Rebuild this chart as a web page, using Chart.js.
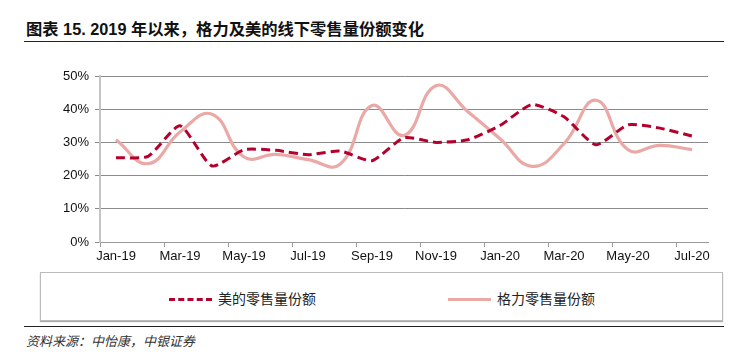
<!DOCTYPE html>
<html>
<head>
<meta charset="utf-8">
<script src="https://cdn.jsdelivr.net/npm/chart.js@4"></script>
<style>
  body { margin: 0; width: 736px; height: 354px; background: #fff; position: relative; overflow: hidden; font-family: "Liberation Sans", Arial, sans-serif; }
  #title { position: absolute; left: 26px; top: 16px; font: bold 16.3px "Liberation Sans", "Noto Sans CJK SC", sans-serif; color: #111; white-space: nowrap; }
  .rule { position: absolute; left: 24px; width: 700px; height: 0; border-top: 1.5px solid #222; }
  #wrap { position: absolute; left: 0; top: 60px; width: 736px; height: 210px; }
  #legend { position: absolute; left: 40px; top: 272px; width: 681px; height: 47px; border: 1px solid #bbb; box-shadow: 0 1px 1px #aaa; }
  .item { position: absolute; top: 15px; font: 14px "Noto Sans CJK SC", sans-serif; color: #222; white-space: nowrap; }
  .swatch { display: inline-block; width: 43px; height: 0; vertical-align: middle; margin-right: 6px; position: relative; top: -1px; }
  #source { position: absolute; left: 26px; top: 331px; font: italic 13px "Noto Sans CJK SC", sans-serif; color: #333; }
</style>
</head>
<body>
<div id="title">图表 15. 2019 年以来，格力及美的线下零售量份额变化</div>
<div class="rule" style="top:41px"></div>
<div id="wrap"><canvas id="shareChart"></canvas></div>
<div id="legend">
  <div class="item" style="left:128px"><span class="swatch" style="border-top:3px dashed #B3002D"></span>美的零售量份额</div>
  <div class="item" style="left:407px"><span class="swatch" style="border-top:3px solid #EAA9A6"></span>格力零售量份额</div>
</div>
<div class="rule" style="top:326px"></div>
<div id="source">资料来源：中怡康，中银证券</div>
<script>
const months = ['Jan-19', 'Feb-19', 'Mar-19', 'Apr-19', 'May-19', 'Jun-19', 'Jul-19', 'Aug-19', 'Sep-19', 'Oct-19',
    'Nov-19', 'Dec-19', 'Jan-20', 'Feb-20', 'Mar-20', 'Apr-20', 'May-20', 'Jun-20', 'Jul-20'];
const mideaShare = [25.4, 25.8, 35.0, 22.9, 27.8, 27.6, 26.3, 27.4, 24.5, 31.4,
    30.0, 30.8, 35.1, 41.4, 37.7, 29.3, 35.3, 34.3, 31.9];
const greeShare = [30.8, 23.6, 33.1, 38.5, 25.6, 26.4, 24.8, 23.4, 41.1, 32.1,
    47.1, 39.2, 31.1, 22.8, 29.6, 42.7, 27.8, 29.1, 27.8];
const yTicks = [0, 10, 20, 30, 40, 50];

const tickFont = { family: '"Liberation Sans", Arial, sans-serif', size: 13 };

new Chart(document.getElementById('shareChart'), {
    type: 'line',
    data: {
        labels: months,
        datasets: [{
            label: '美的零售量份额',
            data: mideaShare,
            borderColor: '#B3002D',
            borderWidth: 3,
            borderDash: [9, 5],
            tension: 0.2,
            pointRadius: 0,
            fill: false
        }, {
            label: '格力零售量份额',
            data: greeShare,
            borderColor: '#EAA9A6',
            borderWidth: 3.2,
            tension: 0.45,
            pointRadius: 0,
            fill: false
        }]
    },
    options: {
        responsive: true,
        maintainAspectRatio: false,
        animation: false,
        layout: { padding: { top: 16, right: 28, bottom: 0, left: 0 } },
        plugins: { legend: { display: false }, tooltip: { enabled: false } },
        scales: {
            x: {
                offset: true,
                border: { color: '#999', width: 1 },
                grid: {
                    drawOnChartArea: false,
                    tickLength: 5,
                    offset: true,
                    tickColor: c => (c.index % 2 === 0 && c.index < months.length) ? '#999' : 'rgba(0,0,0,0)'
                },
                ticks: {
                    autoSkip: false,
                    maxRotation: 0,
                    padding: 2,
                    color: '#111',
                    font: tickFont,
                    callback: (v, i) => i % 2 === 0 ? months[i] : ''
                },
                afterFit: s => { s.height = 28; }
            },
            y: {
                min: 0,
                max: 50,
                border: { color: '#c4c4c4', width: 2 },
                grid: { color: '#8a8a8a', lineWidth: 1, tickLength: 5 },
                ticks: {
                    stepSize: 10,
                    padding: 6,
                    color: '#111',
                    font: tickFont,
                    callback: v => yTicks.includes(v) ? v + '%' : ''
                },
                afterFit: s => { s.width = 100; }
            }
        }
    }
});
</script>
</body>
</html>
